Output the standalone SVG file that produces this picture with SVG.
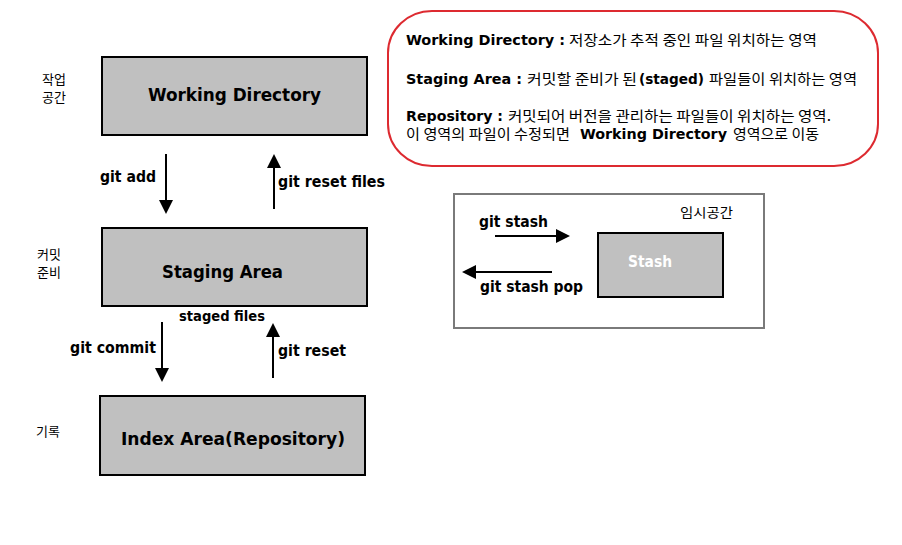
<svg xmlns="http://www.w3.org/2000/svg" width="902" height="545" viewBox="0 0 902 545">
<style>
.box{fill:#c0c0c0;stroke:#000;stroke-width:2}
.title{font-family:"DejaVu Sans Condensed","DejaVu Sans",sans-serif;font-weight:bold;font-size:18px;fill:#000}
.lbl{font-family:"DejaVu Sans Condensed","DejaVu Sans",sans-serif;font-weight:bold;font-size:15px;fill:#000}
.b14{font-family:"DejaVu Sans Condensed","DejaVu Sans",sans-serif;font-weight:bold;font-size:14px;fill:#000}
.kr{font-family:"Noto Sans CJK KR",sans-serif;font-size:14px;fill:#000}
.ks{font-family:"Noto Sans CJK KR",sans-serif;font-size:13px;fill:#000}
.arr{stroke:#000;stroke-width:2;fill:none;marker-end:url(#ah)}
</style>
<defs>
<marker id="ah" markerUnits="userSpaceOnUse" markerWidth="15" markerHeight="14" refX="0" refY="7" orient="auto">
<path d="M0,0 L14,7 L0,14 z" fill="#000"/>
</marker>
</defs>
<rect width="902" height="545" fill="#fff"/>

<g id="working-directory">
<rect class="box" x="102" y="57" width="265" height="78"/>
<text class="title" x="148" y="101" textLength="173" lengthAdjust="spacingAndGlyphs">Working Directory</text>
</g>
<g id="staging-area">
<rect class="box" x="102" y="228" width="265" height="78"/>
<text class="title" x="162" y="278" textLength="121" lengthAdjust="spacingAndGlyphs">Staging Area</text>
</g>
<g id="index-area">
<rect class="box" x="100" y="396" width="265" height="79"/>
<text class="title" x="121" y="445" textLength="224" lengthAdjust="spacingAndGlyphs">Index Area(Repository)</text>
</g>

<g id="side-labels">
<text class="ks"><tspan x="42" y="84">작업</tspan><tspan x="42" y="102">공간</tspan></text>
<text class="ks"><tspan x="37" y="259">커밋</tspan><tspan x="37" y="277">준비</tspan></text>
<text class="ks" x="36" y="436">기록</text>
</g>

<g id="connectors">
<line class="arr" x1="166" y1="154" x2="166" y2="200"/>
<line class="arr" x1="274" y1="209" x2="274" y2="168"/>
<line class="arr" x1="162" y1="322" x2="162" y2="368"/>
<line class="arr" x1="273" y1="378" x2="273" y2="337"/>
<line class="arr" x1="495" y1="236" x2="556" y2="236"/>
<line class="arr" x1="552" y1="272" x2="476" y2="272"/>
<text class="lbl" x="100" y="182" textLength="56" lengthAdjust="spacingAndGlyphs">git add</text>
<text class="lbl" x="278" y="187" textLength="107" lengthAdjust="spacingAndGlyphs">git reset files</text>
<text class="b14" x="179" y="321" textLength="86" lengthAdjust="spacingAndGlyphs">staged files</text>
<text class="lbl" x="70" y="353" textLength="86" lengthAdjust="spacingAndGlyphs">git commit</text>
<text class="lbl" x="278" y="356" textLength="68" lengthAdjust="spacingAndGlyphs">git reset</text>
<text class="lbl" x="479" y="227" textLength="69" lengthAdjust="spacingAndGlyphs">git stash</text>
<text class="lbl" x="480" y="292" textLength="103" lengthAdjust="spacingAndGlyphs">git stash pop</text>
</g>

<g id="stash-area">
<rect x="454" y="194" width="310" height="134" fill="none" stroke="#7a7a7a" stroke-width="2"/>
<text class="ks" x="680" y="217" textLength="53" lengthAdjust="spacingAndGlyphs">임시공간</text>
</g>
<g id="stash">
<rect class="box" x="598" y="233" width="125" height="64"/>
<text class="lbl" x="628" y="267" style="fill:#fff" textLength="44" lengthAdjust="spacingAndGlyphs">Stash</text>
</g>

<g id="legend">
<rect x="388" y="11" width="490" height="155" rx="44" ry="42" fill="#fff" stroke="#dd2a30" stroke-width="2"/>
<text class="b14" x="406" y="45" textLength="159" lengthAdjust="spacingAndGlyphs">Working Directory :</text>
<text class="kr" x="569" y="45" textLength="248" lengthAdjust="spacingAndGlyphs">저장소가 추적 중인 파일 위치하는 영역</text>
<text class="b14" x="406" y="84" textLength="116" lengthAdjust="spacingAndGlyphs">Staging Area :</text>
<text class="kr" x="527" y="84" textLength="110" lengthAdjust="spacingAndGlyphs">커밋할 준비가 된</text>
<text class="b14" x="639" y="84" textLength="65" lengthAdjust="spacingAndGlyphs">(staged)</text>
<text class="kr" x="709" y="84" textLength="148" lengthAdjust="spacingAndGlyphs">파일들이 위치하는 영역</text>
<text class="b14" x="406" y="121" textLength="97" lengthAdjust="spacingAndGlyphs">Repository :</text>
<text class="kr" x="508" y="121" textLength="323" lengthAdjust="spacingAndGlyphs">커밋되어 버전을 관리하는 파일들이 위치하는 영역.</text>
<text class="kr" x="406" y="139" textLength="164" lengthAdjust="spacingAndGlyphs">이 영역의 파일이 수정되면</text>
<text class="b14" x="580" y="139" textLength="147" lengthAdjust="spacingAndGlyphs">Working Directory</text>
<text class="kr" x="733" y="139" textLength="86" lengthAdjust="spacingAndGlyphs">영역으로 이동</text>
</g>
</svg>
